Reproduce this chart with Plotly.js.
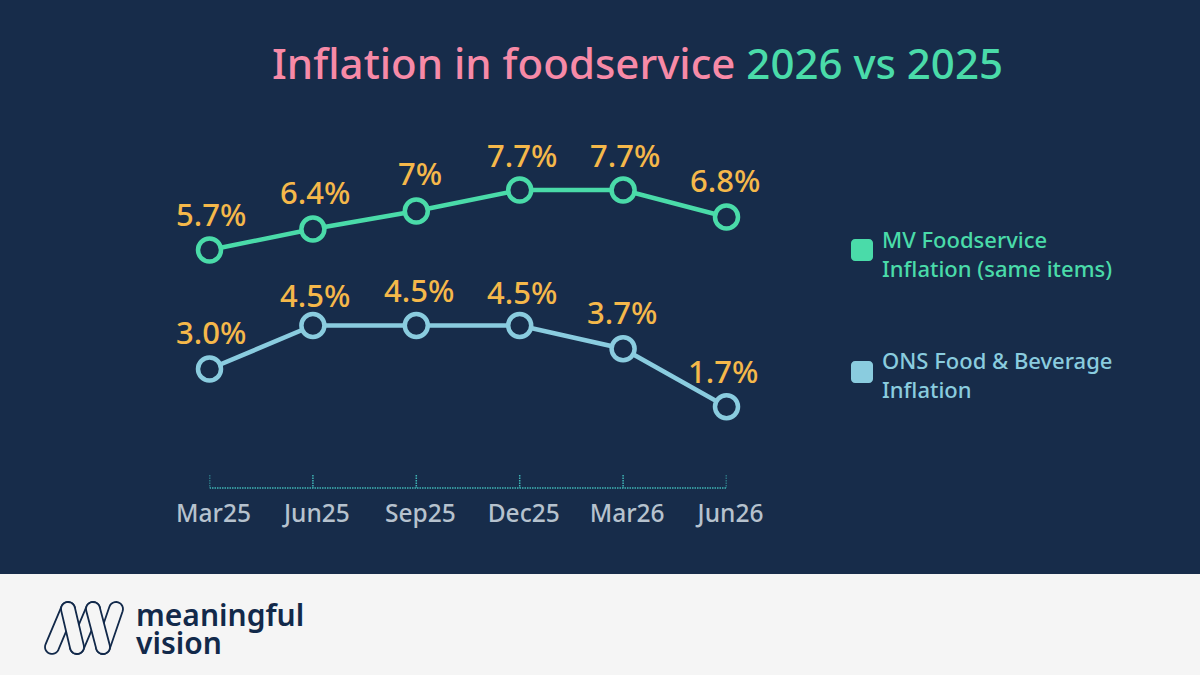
<!DOCTYPE html>
<html>
<head>
<meta charset="utf-8">
<script src="https://cdn.plot.ly/plotly-3.0.1.min.js"></script>
<style>html,body{margin:0;padding:0;background:#172c4a}#chart{width:1200px;height:675px}</style>
</head>
<body>
<div id="chart"></div>
<script>
const categories = ["Mar25","Jun25","Sep25","Dec25","Mar26","Jun26"];
const mvValues = [5.7,6.4,7,7.7,7.7,6.8];
const onsValues = [3.0,4.5,4.5,4.5,3.7,1.7];
const mvLabels = ["5.7%","6.4%","7%","7.7%","7.7%","6.8%"];
const onsLabels = ["3.0%","4.5%","4.5%","4.5%","3.7%","1.7%"];
const mvName = "MV Foodservice<br>Inflation (same items)";
const onsName = "ONS Food &amp; Beverage<br>Inflation";

const FONT = "'Noto Sans', Lato, sans-serif";
const BG = "#172c4a", GREEN = "#4adba9", BLUE = "#8accdf", YELLOW = "#f5b84a",
      PINK = "#f78aa7", TICK = "#b6c2ce", NAVY = "#12294a", TEAL = "#3fb5b5", FOOT = "#f5f5f5";

const px = x => x / 1200, py = y => 1 - y / 675;

function roundRect(x0, y0, x1, y1, r) {
  const c = 0.45 * r;
  const p = (x, y) => px(x) + "," + py(y);
  return "M" + p(x0 + r, y0) + "L" + p(x1 - r, y0) + "C" + p(x1 - c, y0) + " " + p(x1, y0 + c) + " " + p(x1, y0 + r) +
    "L" + p(x1, y1 - r) + "C" + p(x1, y1 - c) + " " + p(x1 - c, y1) + " " + p(x1 - r, y1) +
    "L" + p(x0 + r, y1) + "C" + p(x0 + c, y1) + " " + p(x0, y1 - c) + " " + p(x0, y1 - r) +
    "L" + p(x0, y0 + r) + "C" + p(x0, y0 + c) + " " + p(x0 + c, y0) + " " + p(x0 + r, y0) + "Z";
}
function pill(x0, y0, x1, y1, r) {
  const a = Math.atan2(y1 - y0, x1 - x0), pts = [];
  for (let i = 0; i <= 12; i++) { const t = a + Math.PI / 2 + Math.PI * i / 12; pts.push([x0 + r * Math.cos(t), y0 + r * Math.sin(t)]); }
  for (let i = 0; i <= 12; i++) { const t = a - Math.PI / 2 + Math.PI * i / 12; pts.push([x1 + r * Math.cos(t), y1 + r * Math.sin(t)]); }
  return "M" + pts.map(q => px(q[0]) + "," + py(q[1])).join("L") + "Z";
}
const logoPills = [[103,647,116,609],[77,647,93,609],[52,647,68,609],[68,609,77,647],[93,609,103,647]];

const dotted = {color:TEAL,width:1.5,dash:"1.5px,1px"};
const shapes = [
  {type:"rect",xref:"paper",yref:"paper",x0:0,x1:1,y0:0,y1:py(574),fillcolor:FOOT,line:{width:0},layer:"below"},
  {type:"line",xref:"x",yref:"paper",x0:0,x1:categories.length-1,y0:py(488),y1:py(488),line:dotted},
  ...categories.map((c,i)=>({type:"line",xref:"x",yref:"paper",x0:i,x1:i,y0:py(475),y1:py(488),line:dotted})),
  {type:"path",xref:"paper",yref:"paper",path:roundRect(851,239,873,261,4),fillcolor:GREEN,line:{width:0}},
  {type:"path",xref:"paper",yref:"paper",path:roundRect(851,361,873,383,4),fillcolor:BLUE,line:{width:0}},
  ...logoPills.map(s=>({type:"path",xref:"paper",yref:"paper",path:pill(s[0],s[1],s[2],s[3],7),fillcolor:FOOT,line:{color:NAVY,width:1.8}}))
];

function series(values, name, color, xaxis, yaxis) {
  return {x:categories.map((c,i)=>i),y:values,name:name,xaxis:xaxis,yaxis:yaxis,mode:"lines+markers",cliponaxis:false,
    line:{color:color,width:4.5},marker:{size:23,color:BG,line:{color:color,width:4.5}},hoverinfo:"skip",showlegend:false};
}
const traces = [series(mvValues,"MV Foodservice Inflation (same items)",GREEN,"x","y"),
                series(onsValues,"ONS Food & Beverage Inflation",BLUE,"x2","y2")];

const mvShift = [[1,36],[2,37],[4,38],[2,35],[2,35],[-2,37]];
const onsShift = [[1,37],[2,31],[3,36],[2,34],[-1,37],[-4,36]];
const labelAnn = (labels, values, shifts, xref, yref) => labels.map((t,i)=>({
  text:t,x:i,y:values[i],xref:xref,yref:yref,showarrow:false,xanchor:"center",yanchor:"middle",
  xshift:shifts[i][0],yshift:shifts[i][1],font:{family:FONT,size:31,weight:500,color:YELLOW}}));

const annotations = [
  ...labelAnn(mvLabels,mvValues,mvShift,"x","y"),
  ...labelAnn(onsLabels,onsValues,onsShift,"x2","y2"),
  {text:mvName,xref:"paper",yref:"paper",x:px(880),y:py(253),xanchor:"left",yanchor:"middle",align:"left",showarrow:false,font:{family:FONT,size:22,weight:500,color:GREEN}},
  {text:onsName,xref:"paper",yref:"paper",x:px(880),y:py(374),xanchor:"left",yanchor:"middle",align:"left",showarrow:false,font:{family:FONT,size:22,weight:500,color:BLUE}},
  {text:"meaningful",xref:"paper",yref:"paper",x:px(134),y:py(614),xanchor:"left",yanchor:"middle",showarrow:false,font:{family:FONT,size:30,weight:600,color:NAVY}},
  {text:"vision",xref:"paper",yref:"paper",x:px(134),y:py(642),xanchor:"left",yanchor:"middle",showarrow:false,font:{family:FONT,size:30,weight:600,color:NAVY}}
];

const layout = {
  width:1200,height:675,paper_bgcolor:BG,plot_bgcolor:"rgba(0,0,0,0)",
  margin:{l:0,r:0,t:0,b:0},showlegend:false,
  title:{text:'<span style="color:'+PINK+'">Inflation in foodservice</span> <span style="color:'+GREEN+'">2026 vs 2025</span>',
    x:px(272),xanchor:"left",xref:"paper",y:py(64),yanchor:"middle",yref:"paper",font:{family:FONT,size:42,weight:500,color:PINK}},
  xaxis:{domain:[px(209.5),px(726.5)],range:[0,categories.length-1],tickmode:"array",tickvals:categories.map((c,i)=>i),ticktext:categories,
    ticks:"outside",ticklen:4,tickcolor:"rgba(0,0,0,0)",ticklabelshift:4,tickfont:{family:FONT,size:24.5,weight:500,color:TICK},
    showgrid:false,zeroline:false,showline:false,anchor:"y"},
  xaxis2:{domain:[px(209),px(725)],range:[0,categories.length-1],visible:false,overlaying:"x",anchor:"y2",showgrid:false,zeroline:false},
  yaxis:{domain:[py(488),py(100)],range:[-2.233,10.7],visible:false,showgrid:false,zeroline:false},
  yaxis2:{domain:[py(488),py(100)],range:[-1.103,12.276],visible:false,overlaying:"y",showgrid:false,zeroline:false},
  shapes:shapes,annotations:annotations
};
Plotly.newPlot("chart",traces,layout,{displayModeBar:false,staticPlot:true});
</script>
</body>
</html>
